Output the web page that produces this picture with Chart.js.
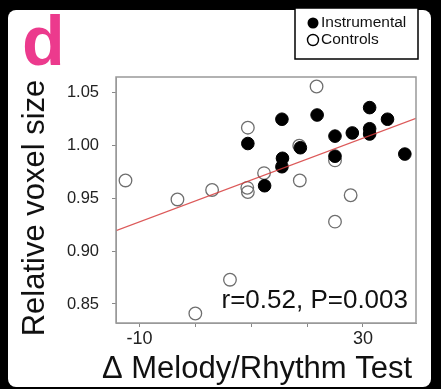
<!DOCTYPE html>
<html>
<head>
<meta charset="utf-8">
<script src="https://cdn.jsdelivr.net/npm/chart.js@4.4.1/dist/chart.umd.min.js"></script>
<style>
  html, body { margin: 0; padding: 0; background: #000; }
  #wrap { width: 441px; height: 389px; }
</style>
</head>
<body>
<div id="wrap"><canvas id="voxelChart" width="441" height="389"></canvas></div>
<script>
// change in melody/rhythm score vs relative voxel size
const instrumentalX = [9.4, 12.4, 15.5, 15.6, 15.5, 18.8, 21.8, 31.2, 34.4, 25.0, 28.1, 31.2, 31.2, 25.0, 37.5];
const instrumentalY = [1.002, 0.962, 1.025, 0.988, 0.980, 0.998, 1.029, 1.036, 1.025, 1.009, 1.012, 1.016, 1.011, 0.990, 0.992];

const controlX = [-12.5, -3.2, 3.0, 9.4, 9.3, 9.4, 12.3, 18.7, 18.6, 21.7, 25.0, 27.8, 25.0, 6.2, 0.0];
const controlY = [0.967, 0.949, 0.958, 1.017, 0.960, 0.956, 0.974, 0.967, 1.000, 1.056, 0.986, 0.953, 0.928, 0.873, 0.841];

// regression fit over all subjects
const fitSlope = 0.00198;
const fitIntercept = 0.9476;
const statText = 'r=0.52, P=0.003';

const xRange = [-14.2, 39.5];
const yRange = [0.832, 1.065];
const xTicks = [-10, 0, 10, 20, 30];
const xTickLabels = ['-10', '', '', '', '30'];
const yTicks = [0.85, 0.90, 0.95, 1.00, 1.05];
const yTickLabels = ['0.85', '0.90', '0.95', '1.00', '1.05'];

const xTitle = '\u0394 Melody/Rhythm Test';
const yTitle = 'Relative voxel size';
const panelLetter = 'd';

const FONT = '"Liberation Sans", Arial, Helvetica, sans-serif';
Chart.defaults.font.family = FONT;

const toPoints = (xs, ys) => xs.map((x, i) => ({ x: x, y: ys[i] }));

const fitLine = xRange.map(x => ({ x: x, y: fitIntercept + fitSlope * x }));

// black backdrop with the white panel
const backdrop = {
  id: 'backdrop',
  beforeDraw(chart) {
    const c = chart.ctx;
    c.save();
    c.fillStyle = '#000';
    c.fillRect(0, 0, chart.width, chart.height);
    c.fillStyle = '#fff';
    c.beginPath();
    c.roundRect(8, 10, 423, 377, 8);
    c.fill();
    c.restore();
  }
};

// frame, titles, panel letter, legend box and stats
const decorations = {
  id: 'decorations',
  afterDatasetsDraw(chart) {
    const c = chart.ctx;
    const a = chart.chartArea;
    c.save();

    c.strokeStyle = '#999';
    c.lineWidth = 1.5;
    c.strokeRect(a.left, a.top, a.right - a.left, a.bottom - a.top);

    c.fillStyle = '#111';
    c.font = '26px ' + FONT;
    c.textAlign = 'right';
    c.textBaseline = 'alphabetic';
    c.fillText(statText, 408, 308);
    c.restore();
  },
  afterDraw(chart) {
    const c = chart.ctx;
    c.save();

    c.fillStyle = '#111';
    c.font = '31px ' + FONT;
    c.textAlign = 'center';
    c.textBaseline = 'alphabetic';
    c.fillText(xTitle, 257, 378);

    c.save();
    c.translate(44, 208);
    c.rotate(-Math.PI / 2);
    c.fillText(yTitle, 0, 0);
    c.restore();

    c.fillStyle = '#ec3a8d';
    c.font = 'bold 70px ' + FONT;
    c.textAlign = 'left';
    c.fillText(panelLetter, 22, 65);

    // legend
    c.fillStyle = '#fff';
    c.fillRect(295, 8, 123, 51);
    c.strokeStyle = '#000';
    c.lineWidth = 1.5;
    c.strokeRect(295, 8, 123, 51);

    const sets = chart.data.datasets.filter(d => d.showInLegend);
    sets.forEach((d, i) => {
      const cy = 23 + i * 17;
      c.beginPath();
      c.arc(313, cy, 5.5, 0, Math.PI * 2);
      if (d.legendFill) {
        c.fillStyle = '#000';
        c.fill();
      } else {
        c.strokeStyle = '#000';
        c.lineWidth = 1.4;
        c.stroke();
      }
      c.fillStyle = '#111';
      c.font = '15.5px ' + FONT;
      c.textAlign = 'left';
      c.textBaseline = 'middle';
      c.fillText(d.label, 321, cy);
    });
    c.restore();
  }
};

new Chart(document.getElementById('voxelChart'), {
  type: 'scatter',
  data: {
    datasets: [
      {
        type: 'line',
        label: 'fit',
        data: fitLine,
        borderColor: 'rgba(214, 60, 60, 0.85)',
        borderWidth: 1.3,
        pointRadius: 0,
        fill: false,
        order: 0
      },
      {
        label: 'Instrumental',
        showInLegend: true,
        legendFill: true,
        data: toPoints(instrumentalX, instrumentalY),
        pointRadius: 6.3,
        pointBackgroundColor: '#000',
        pointBorderColor: '#000',
        pointBorderWidth: 1,
        order: 1
      },
      {
        label: 'Controls',
        showInLegend: true,
        legendFill: false,
        data: toPoints(controlX, controlY),
        pointRadius: 6.3,
        pointBackgroundColor: 'rgba(0,0,0,0)',
        pointBorderColor: '#6e6e6e',
        pointBorderWidth: 1.3,
        order: 2
      }
    ]
  },
  options: {
    responsive: false,
    animation: false,
    layout: { padding: { left: 0, right: 25, top: 77, bottom: 0 } },
    plugins: {
      legend: { display: false },
      tooltip: { enabled: false }
    },
    scales: {
      x: {
        type: 'linear',
        min: xRange[0],
        max: xRange[1],
        afterBuildTicks: (scale) => { scale.ticks = xTicks.map(v => ({ value: v })); },
        afterFit: (scale) => { scale.height = 66; },
        grid: { drawOnChartArea: false, drawTicks: true, tickLength: 4, color: '#888' },
        border: { display: true, color: '#999' },
        ticks: {
          padding: 1,
          color: '#222',
          font: { size: 18 },
          maxRotation: 0,
          autoSkip: false,
          callback: (value, index) => xTickLabels[index]
        }
      },
      y: {
        type: 'linear',
        min: yRange[0],
        max: yRange[1],
        afterBuildTicks: (scale) => { scale.ticks = yTicks.map(v => ({ value: v })); },
        afterFit: (scale) => { scale.width = 116; },
        grid: { drawOnChartArea: false, drawTicks: true, tickLength: 4, color: '#888' },
        border: { display: true, color: '#999' },
        ticks: {
          padding: 13,
          color: '#222',
          font: { size: 16.5 },
          autoSkip: false,
          callback: (value, index) => yTickLabels[index]
        }
      }
    }
  },
  plugins: [backdrop, decorations]
});
</script>
</body>
</html>
